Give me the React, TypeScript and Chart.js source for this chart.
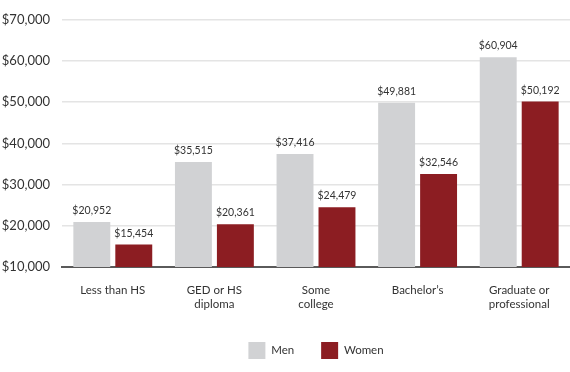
import React, { useEffect, useRef } from "react";
import { Chart, registerables } from "chart.js";

Chart.register(...registerables);

const categories: (string | string[])[] = [
  "Less than HS",
  ["GED or HS", "diploma"],
  ["Some", "college"],
  "Bachelor\u2019s",
  ["Graduate or", "professional"],
];
const menValues = [20952, 35515, 37416, 49881, 60904];
const womenValues = [15454, 20361, 24479, 32546, 50192];
const seriesNames = ["Men", "Women"];
const yTicks = [10000, 20000, 30000, 40000, 50000, 60000, 70000];

const MEN_COLOR = "#d1d2d4";
const WOMEN_COLOR = "#8c1d22";
const FONT = "Lato, 'Open Sans', sans-serif";

const fmt = (v: number) => "$" + v.toLocaleString("en-US");

const valueLabels = {
  id: "valueLabels",
  afterDatasetsDraw(chart: any) {
    const ctx = chart.ctx;
    ctx.save();
    ctx.font = `10.5px ${FONT}`;
    ctx.fillStyle = "#333333";
    ctx.textAlign = "center";
    ctx.textBaseline = "bottom";
    chart.data.datasets.forEach((ds: any, i: number) => {
      const meta = chart.getDatasetMeta(i);
      meta.data.forEach((bar: any, j: number) => {
        ctx.fillText(fmt(ds.data[j]), bar.x, bar.y - 6);
      });
    });
    ctx.restore();
  },
};

// centre the legend under the plot area rather than the whole canvas
const legendUnderPlot = {
  id: "legendUnderPlot",
  afterLayout(chart: any) {
    if (chart.legend) chart.legend.left = chart.chartArea.left;
  },
};

export default function App() {
  const ref = useRef<HTMLCanvasElement>(null);
  useEffect(() => {
    document.body.style.margin = "0";
    const chart = new Chart(ref.current!, {
      type: "bar",
      data: {
        labels: categories,
        datasets: [
          { label: seriesNames[0], data: menValues, backgroundColor: MEN_COLOR },
          { label: seriesNames[1], data: womenValues, backgroundColor: WOMEN_COLOR },
        ],
      },
      options: {
        animation: false,
        responsive: false,
        maintainAspectRatio: false,
        layout: { padding: { top: 11, right: 0, left: 0, bottom: 3 } },
        datasets: { bar: { categoryPercentage: 0.826, barPercentage: 0.88 } },
        scales: {
          x: {
            afterFit: (s: any) => { s.height = 48; },
            grid: { display: false, drawTicks: false },
            border: { display: true, color: "#5a5a5a", width: 2 },
            ticks: {
              color: "#333333",
              font: { family: FONT, size: 11.5, lineHeight: 1.25 },
              padding: 16,
              maxRotation: 0,
            },
          },
          y: {
            min: 10000,
            max: 70000,
            afterFit: (s: any) => { s.width = 62; },
            afterBuildTicks: (s: any) => { s.ticks = yTicks.map((v) => ({ value: v })); },
            grid: { color: "#e4e4e4", drawTicks: false, lineWidth: 1.5 },
            border: { display: false },
            ticks: {
              color: "#333333",
              font: { family: FONT, size: 13 },
              padding: 12,
              callback: (v: any) => fmt(Number(v)),
            },
          },
        },
        plugins: {
          legend: {
            position: "bottom",
            labels: {
              boxWidth: 17,
              boxHeight: 17,
              padding: 27,
              color: "#333333",
              font: { family: FONT, size: 11.5 },
            },
          },
          tooltip: { enabled: false },
        },
      },
      plugins: [valueLabels, legendUnderPlot],
    });
    return () => chart.destroy();
  }, []);
  return (
    <div style={{ position: "absolute", left: 0, top: 0, width: 570, height: 372 }}>
      <canvas ref={ref} width={570} height={372} />
    </div>
  );
}
